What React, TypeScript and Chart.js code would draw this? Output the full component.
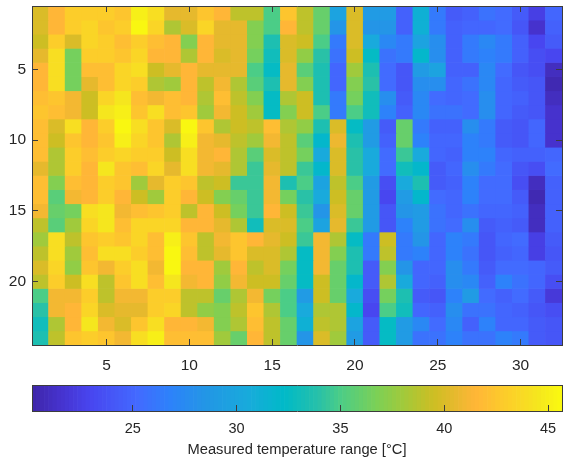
import React, { useEffect, useRef } from "react";
import { Chart, registerables } from "chart.js";

Chart.register(...registerables);

const columns = [1,2,3,4,5,6,7,8,9,10,11,12,13,14,15,16,17,18,19,20,21,22,23,24,25,26,27,28,29,30,31,32];
const xTickValues = [5, 10, 15, 20, 25, 30];
const yTickValues = [5, 10, 15, 20];
const colorbarTicks = [25, 30, 35, 40, 45];
const colorbarTitle = "Measured temperature range [°C]";

const row01 = [40,41.5,43,43,43,42.5,45,44,40.5,40.5,42.5,41.5,39,39,35,42.5,39,36,29.8,40,29,29,24.7,31.2,26.3,24.3,24.7,25.8,25.3,24.3,22.5,25];
const row02 = [40,41.5,43,43.5,42.5,43,45.5,43.5,38.5,40,43.5,40.5,40.5,37,35,41.5,39,36,28.4,40,28.4,28.4,24.7,31.2,26.3,24.7,25,25,25.3,24,21.5,24.7];
const row03 = [39.5,43,40,43.5,43,42,43,42,41.5,37,41.5,40.5,40.5,37,33.5,40,39.5,35,26.3,40,30.5,27.3,26.3,29.8,27.8,24.7,26.3,27.3,26.3,24.7,23,24.3];
const row04 = [40.5,44,36.5,43,43,42.5,43.5,41.5,41.5,38.5,41.5,40,40.5,36.5,33,40,37.5,34,25.8,39.5,32.5,25.8,26.3,32,27.8,24.7,26.3,26.8,26.3,24.7,23.5,23];
const row05 = [41.5,44,36.5,42,42,43.5,44,39.5,40.5,41.5,40.5,40.5,40.5,35,32.5,40.5,35.5,33.5,25,38,33.5,25.3,24,29,29.8,24.7,24.7,27.3,25.3,24,23.5,21];
const row06 = [41.5,44,36.5,40.5,42,43.5,43,38.5,38,41.5,39,41,38.5,35.5,33.5,40.5,37,33.5,25,37,34,25.3,24,27.8,27.8,25,25.8,27.3,25,24.3,24,20.5];
const row07 = [42,42.5,41,39.5,43.5,44.5,42,41,42,41.5,38.5,42,39,37,32.5,38.5,39.5,33.5,26.3,36.5,33,27.8,24.3,27.3,25.3,25,25.3,27.8,25,24.7,24,21];
const row08 = [42.5,42,41,39.5,44.5,45,42.5,44,42,42.5,38,41,39.5,38,32.5,37,39.5,35,26.3,35,33,26.8,24.7,27.3,25.8,25.8,25.3,27.8,25,24.3,24,21.5];
const row09 = [42,40,44,41.5,43,45.5,44,42.5,40,45.5,42.5,38.5,39.5,39,42,38.5,37.5,33.5,40,32.5,29,24.3,36,26.3,24.7,24.7,27.8,26.3,24.3,24,25,21.5];
const row10 = [42,39.5,42.5,41.5,42.5,45,43.5,42.5,38.5,45,41,40.5,39,38,41,39,35.5,32,40.8,33.5,29,24.7,36,26.8,25,25,26.8,26.3,24.3,24,25,21.5];
const row11 = [42,38.5,43,42,43,43.5,43,43,39.5,44,41,41.5,38.5,35.5,40,39,36.5,30.5,40,34,30.5,25.3,34.5,30.5,25,24.7,26.8,26.8,25,24.7,24.7,25];
const row12 = [40.5,38.5,43,41.5,44.5,42.5,42,43.5,40.5,44,41,40.5,38.5,34.5,40.5,39,34.5,32,40,34,30.5,25.3,33,32,24.3,25,27.8,26.3,25.3,24,23.5,25.3];
const row13 = [42,37,42,41.5,43,42.5,38,40.5,43,42.5,39,39.5,34.5,34.5,41,33.5,35,29.8,39,35,29,23.5,30.5,33.5,24.3,24.7,26.8,25.3,25.3,23.5,21,24.7];
const row14 = [42,35.5,41,41.5,43,41.5,39.5,38,43,41.5,39.5,37,36,34.5,41,36.5,34,30.5,39.5,36,29,23,29,32,25.3,25,26.8,25.3,25.3,24.3,20.5,24.7];
const row15 = [41,36,36.5,44,44.5,41,42,42.5,43,39,41.5,39.5,36.5,34.5,41.5,39.5,34.5,28.4,40,36,29,24,28.4,29,25.8,25,25.8,25,25,24.7,21,24.7];
const row16 = [39,35.5,38,43.5,44.5,42,43.5,43.5,43.5,41.5,41.5,40.5,38.5,33,40,40,35,29.8,40.5,34.5,29,24,26.8,29,25.8,25.3,27.8,24.3,24.7,24.3,21,24.7];
const row17 = [38,44,39,42.5,43,42.5,43.5,42,45,42.5,39,41,42.5,41.5,40.5,39.5,34.5,41,38.5,32.5,26.3,39.5,26.3,28.4,25,26.8,26.3,24,25,25.3,22.5,24.3];
const row18 = [39,44,38,42,44,44,43,42,45.5,42,39,40.5,42.5,40,40,38.5,32.5,41,37,33.5,26.3,39,26.3,26.8,25,26.8,25.8,24,24.7,25,22.5,24];
const row19 = [40,43.5,37.5,42.5,41,43,44,41,45.5,41.5,41.5,38,41.5,39,40,36.5,32.5,41,36,33.5,24.3,37,28.4,25,25,27.8,26.3,24.3,25.3,25.3,25,24.3];
const row20 = [39,43,39.5,44,39,42.5,44,42,44.5,41,41.5,37.5,41,39.5,39.5,36,32.5,39.5,36,32,24.3,38.5,30.5,25,24.7,27.8,27.3,24.7,26.8,25.8,25,23.5];
const row21 = [35,41,41,43,39,41,41,43,43,39,39,36,38.5,41,36.5,35,29,39.5,36,30.5,23.5,36.5,33.5,24.3,24,26.8,29,25.3,24.7,25.3,24.3,22];
const row22 = [34,41,41.5,43.5,40,40.5,40.5,43,43.5,39,37.5,37,39,42.5,38.5,35,30.5,38.5,38.5,32,23,35,33,25,24.7,27.8,25.8,25.8,25,24.7,24,23.5];
const row23 = [33,38.5,41.5,44.5,41,40,42.5,44,41.5,41.5,41,37,38.5,42,39,36,31.2,39,38.5,29.8,24.3,32.5,29,27.3,25.3,27.3,24.7,26.8,25,25,24.3,24];
const row24 = [33.5,39,42.5,43,42.5,41,44,45,42,42,42,38,36,41.5,39,36,28.4,40,38,29,24.3,32.5,29,25.8,25.8,26.8,25.8,25.8,26.8,26.3,24.3,24];
const rows = [row01,row02,row03,row04,row05,row06,row07,row08,row09,row10,row11,row12,row13,row14,row15,row16,row17,row18,row19,row20,row21,row22,row23,row24];

const stopValues = [20.15,21.5,23,25.2,26.8,28.5,30.5,32.3,33.9,35,36.8,38,39.5,40.5,41.5,43.2,44.5,45.67];
const stopColors = [[62,38,168],[70,50,205],[72,70,240],[67,105,255],[45,130,250],[35,150,230],[25,170,220],[0,186,200],[38,192,170],[75,205,135],[125,208,85],[160,202,60],[205,190,35],[230,185,45],[255,182,55],[252,208,40],[245,230,30],[250,250,15]];
const levelCount = 128;

function colorOf(v: number): string {
  let i = 0;
  while (i < stopValues.length - 2 && v > stopValues[i + 1]) i++;
  const t = Math.max(0, Math.min(1, (v - stopValues[i]) / (stopValues[i + 1] - stopValues[i])));
  const c = stopColors[i].map((a, k) => Math.round(a + (stopColors[i + 1][k] - a) * t));
  return `rgb(${c[0]},${c[1]},${c[2]})`;
}

const ink = "#262626";
const frame = "#3c3c3c";
const fontFamily = "'Liberation Sans', Arial, sans-serif";

function fixed(size: number, horizontal: boolean) {
  return (s: any) => {
    if (horizontal) s.height = size;
    else s.width = size;
    s.paddingTop = 0;
    s.paddingBottom = 0;
    s.paddingLeft = 0;
    s.paddingRight = 0;
  };
}
function useTicks(values: number[]) {
  return (s: any) => {
    s.ticks = values.map((value) => ({ value }));
  };
}

function axisBase(values: number[], horizontal: boolean, size: number, labels: boolean, pad: number, fontSize: number) {
  return {
    offset: false,
    afterBuildTicks: useTicks(values),
    afterFit: fixed(size, horizontal),
    border: { display: true, color: frame, width: 1, z: 1 },
    grid: { offset: false, drawOnChartArea: false, drawTicks: true, tickLength: -6, color: frame, z: 1 },
    ticks: labels
      ? { display: true, padding: pad, color: ink, font: { family: fontFamily, size: fontSize }, maxRotation: 0, autoSkip: false, callback: (v: number) => String(v) }
      : { display: false },
  };
}

function frameEdge(position: string, horizontal: boolean, min: number, max: number) {
  return {
    type: "linear",
    position,
    min,
    max,
    offset: false,
    afterBuildTicks: useTicks([]),
    afterFit: fixed(0, horizontal),
    border: { display: true, color: frame, width: 1, z: 1 },
    grid: { display: false, offset: false },
    ticks: { display: false },
  };
}

export default function App() {
  const heatRef = useRef<HTMLCanvasElement>(null);
  const barRef = useRef<HTMLCanvasElement>(null);

  useEffect(() => {
    document.body.style.margin = "0";
    const heat = new Chart(heatRef.current!, {
      type: "bar",
      data: {
        labels: columns,
        datasets: rows.map((vals, r) => ({
          data: vals.map((_, c) => ({ x: columns[c], y: [r + 0.5, r + 1.5] })),
          backgroundColor: vals.map(colorOf),
          borderWidth: 0,
          grouped: false,
          barPercentage: 1,
          categoryPercentage: 1,
        })),
      } as any,
      options: {
        responsive: false,
        animation: false,
        layout: { padding: { top: 6, right: 1, left: 0, bottom: 0 } },
        plugins: { legend: { display: false }, tooltip: { enabled: false } },
        scales: {
          x: { type: "linear", position: "bottom", min: 0.5, max: 32.5, ...axisBase(xTickValues, true, 27, true, 17, 15.5) },
          x2: { type: "linear", position: "top", min: 0.5, max: 32.5, ...axisBase(xTickValues, true, 0, false, 0, 15.5) },
          y: { type: "linear", position: "left", reverse: true, min: 0.5, max: 24.5, ...axisBase(yTickValues, false, 32, true, 12, 15.5) },
          y2: { type: "linear", position: "right", reverse: true, min: 0.5, max: 24.5, ...axisBase(yTickValues, false, 0, false, 0, 15.5) },
        },
      } as any,
    });

    const levels = Array.from({ length: levelCount }, (_, i) => 20.15 + ((i + 0.5) * (45.67 - 20.15)) / levelCount);
    const bar = new Chart(barRef.current!, {
      type: "bar",
      data: {
        labels: levels,
        datasets: [
          {
            data: levels.map((v) => ({ x: v, y: [0, 1] })),
            backgroundColor: levels.map(colorOf),
            borderWidth: 0,
            barPercentage: 1,
            categoryPercentage: 1,
          },
        ],
      } as any,
      options: {
        responsive: false,
        animation: false,
        layout: { padding: { top: 13, right: 1, left: 32, bottom: 0 } },
        plugins: { legend: { display: false }, tooltip: { enabled: false } },
        scales: {
          x: {
            type: "linear",
            position: "bottom",
            min: 20.15,
            max: 45.67,
            ...axisBase(colorbarTicks, true, 51, true, 15, 14.5),
            title: { display: true, text: colorbarTitle, color: ink, font: { family: fontFamily, size: 14.7 }, padding: { top: 3, bottom: 3 } },
          },
          x2: frameEdge("top", true, 20.15, 45.67),
          y: { type: "linear", min: 0, max: 1, display: false },
          yr: frameEdge("right", false, 0, 1),
          yl: frameEdge("left", false, 0, 1),
        },
      } as any,
    });
    return () => {
      heat.destroy();
      bar.destroy();
    };
  }, []);

  return (
    <div style={{ position: "relative", width: 563, height: 462 }}>
      <canvas ref={heatRef} width={563} height={372} style={{ position: "absolute", left: 0, top: 0, display: "block" }} />
      <canvas ref={barRef} width={563} height={90} style={{ position: "absolute", left: 0, top: 372, display: "block" }} />
    </div>
  );
}
